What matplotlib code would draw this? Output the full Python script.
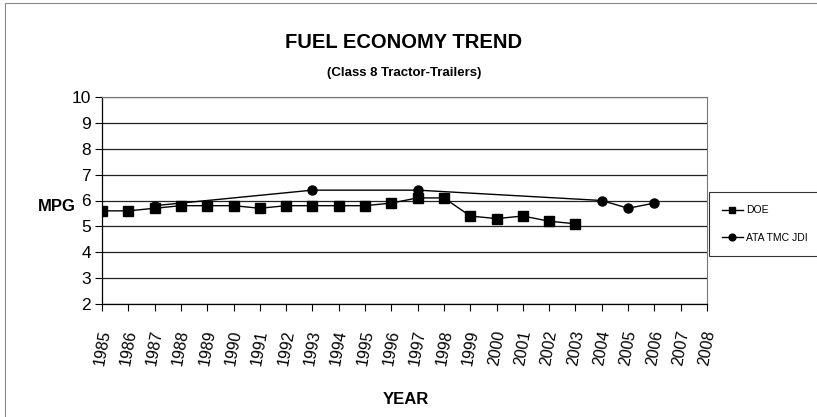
import matplotlib
matplotlib.use("Agg")
import matplotlib.pyplot as plt
from matplotlib.patches import Rectangle

years = list(range(1985, 2009))
doe_years = list(range(1985, 2004))
doe_mpg = [5.6, 5.6, 5.7, 5.8, 5.8, 5.8, 5.7, 5.8, 5.8, 5.8, 5.8, 5.9, 6.1, 6.1,
           5.4, 5.3, 5.4, 5.2, 5.1]
ata_years = [1987, 1993, 1997, 2004, 2005, 2006]
ata_mpg = [5.8, 6.4, 6.4, 6.0, 5.7, 5.9]
y_ticks = list(range(2, 11))

plt.rcParams['font.family'] = ['Liberation Sans', 'DejaVu Sans']

W, H = 817, 417
fig = plt.figure(figsize=(W / 100, H / 100), dpi=100)
fig.patches.append(Rectangle((5 / W, -0.1), 1.2, (H - 3) / H + 0.1, transform=fig.transFigure,
                             fill=False, edgecolor='#888888', linewidth=0.8))

ax = fig.add_axes([102 / W, 1 - 304 / H, (707 - 102) / W, (304 - 97) / H])
ax.plot(doe_years, doe_mpg, color='black', marker='s', markersize=6.5, linewidth=1.0,
        label='DOE')
ax.plot(ata_years, ata_mpg, color='black', marker='o', markersize=6.5, linewidth=1.0,
        label='ATA TMC JDI')

ax.set_xlim(1985, 2008)
ax.set_ylim(2, 10)
ax.set_yticks(y_ticks)
ax.set_xticks(years)
ax.set_xticklabels([str(y) for y in years], rotation=80, ha='center', fontsize=11.5)
ax.tick_params(axis='y', labelsize=12.5, direction='out', length=5, width=0.8, pad=3)
ax.tick_params(axis='x', direction='out', length=5, width=0.8, pad=13)
ax.grid(axis='y', color='#222222', linewidth=0.9)
ax.set_axisbelow(True)
for s in ['top', 'right']:
    ax.spines[s].set_color('#777777')
    ax.spines[s].set_linewidth(0.8)
for s in ['left', 'bottom']:
    ax.spines[s].set_color('black')
    ax.spines[s].set_linewidth(0.9)

fig.text(404 / W, 1 - 42 / H, 'FUEL ECONOMY TREND', ha='center', va='center',
         fontsize=14.5, fontweight='bold')
fig.text(404 / W, 1 - 73 / H, '(Class 8 Tractor-Trailers)', ha='center', va='center',
         fontsize=9.5, fontweight='bold')
fig.text(57 / W, 1 - 206 / H, 'MPG', ha='center', va='center', fontsize=12,
         fontweight='bold')
fig.text(406 / W, 1 - 400 / H, 'YEAR', ha='center', va='center', fontsize=12,
         fontweight='bold')

leg = fig.legend(loc='lower left', bbox_to_anchor=(709 / W, 1 - 256 / H),
                 frameon=True, fontsize=7.5, handlelength=2.0, markerscale=0.75,
                 borderpad=1.25, labelspacing=1.7, handletextpad=0.3, fancybox=False,
                 borderaxespad=0)
leg.get_frame().set_edgecolor('black')
leg.get_frame().set_linewidth(0.8)

fig.savefig('out.png', dpi=100)
